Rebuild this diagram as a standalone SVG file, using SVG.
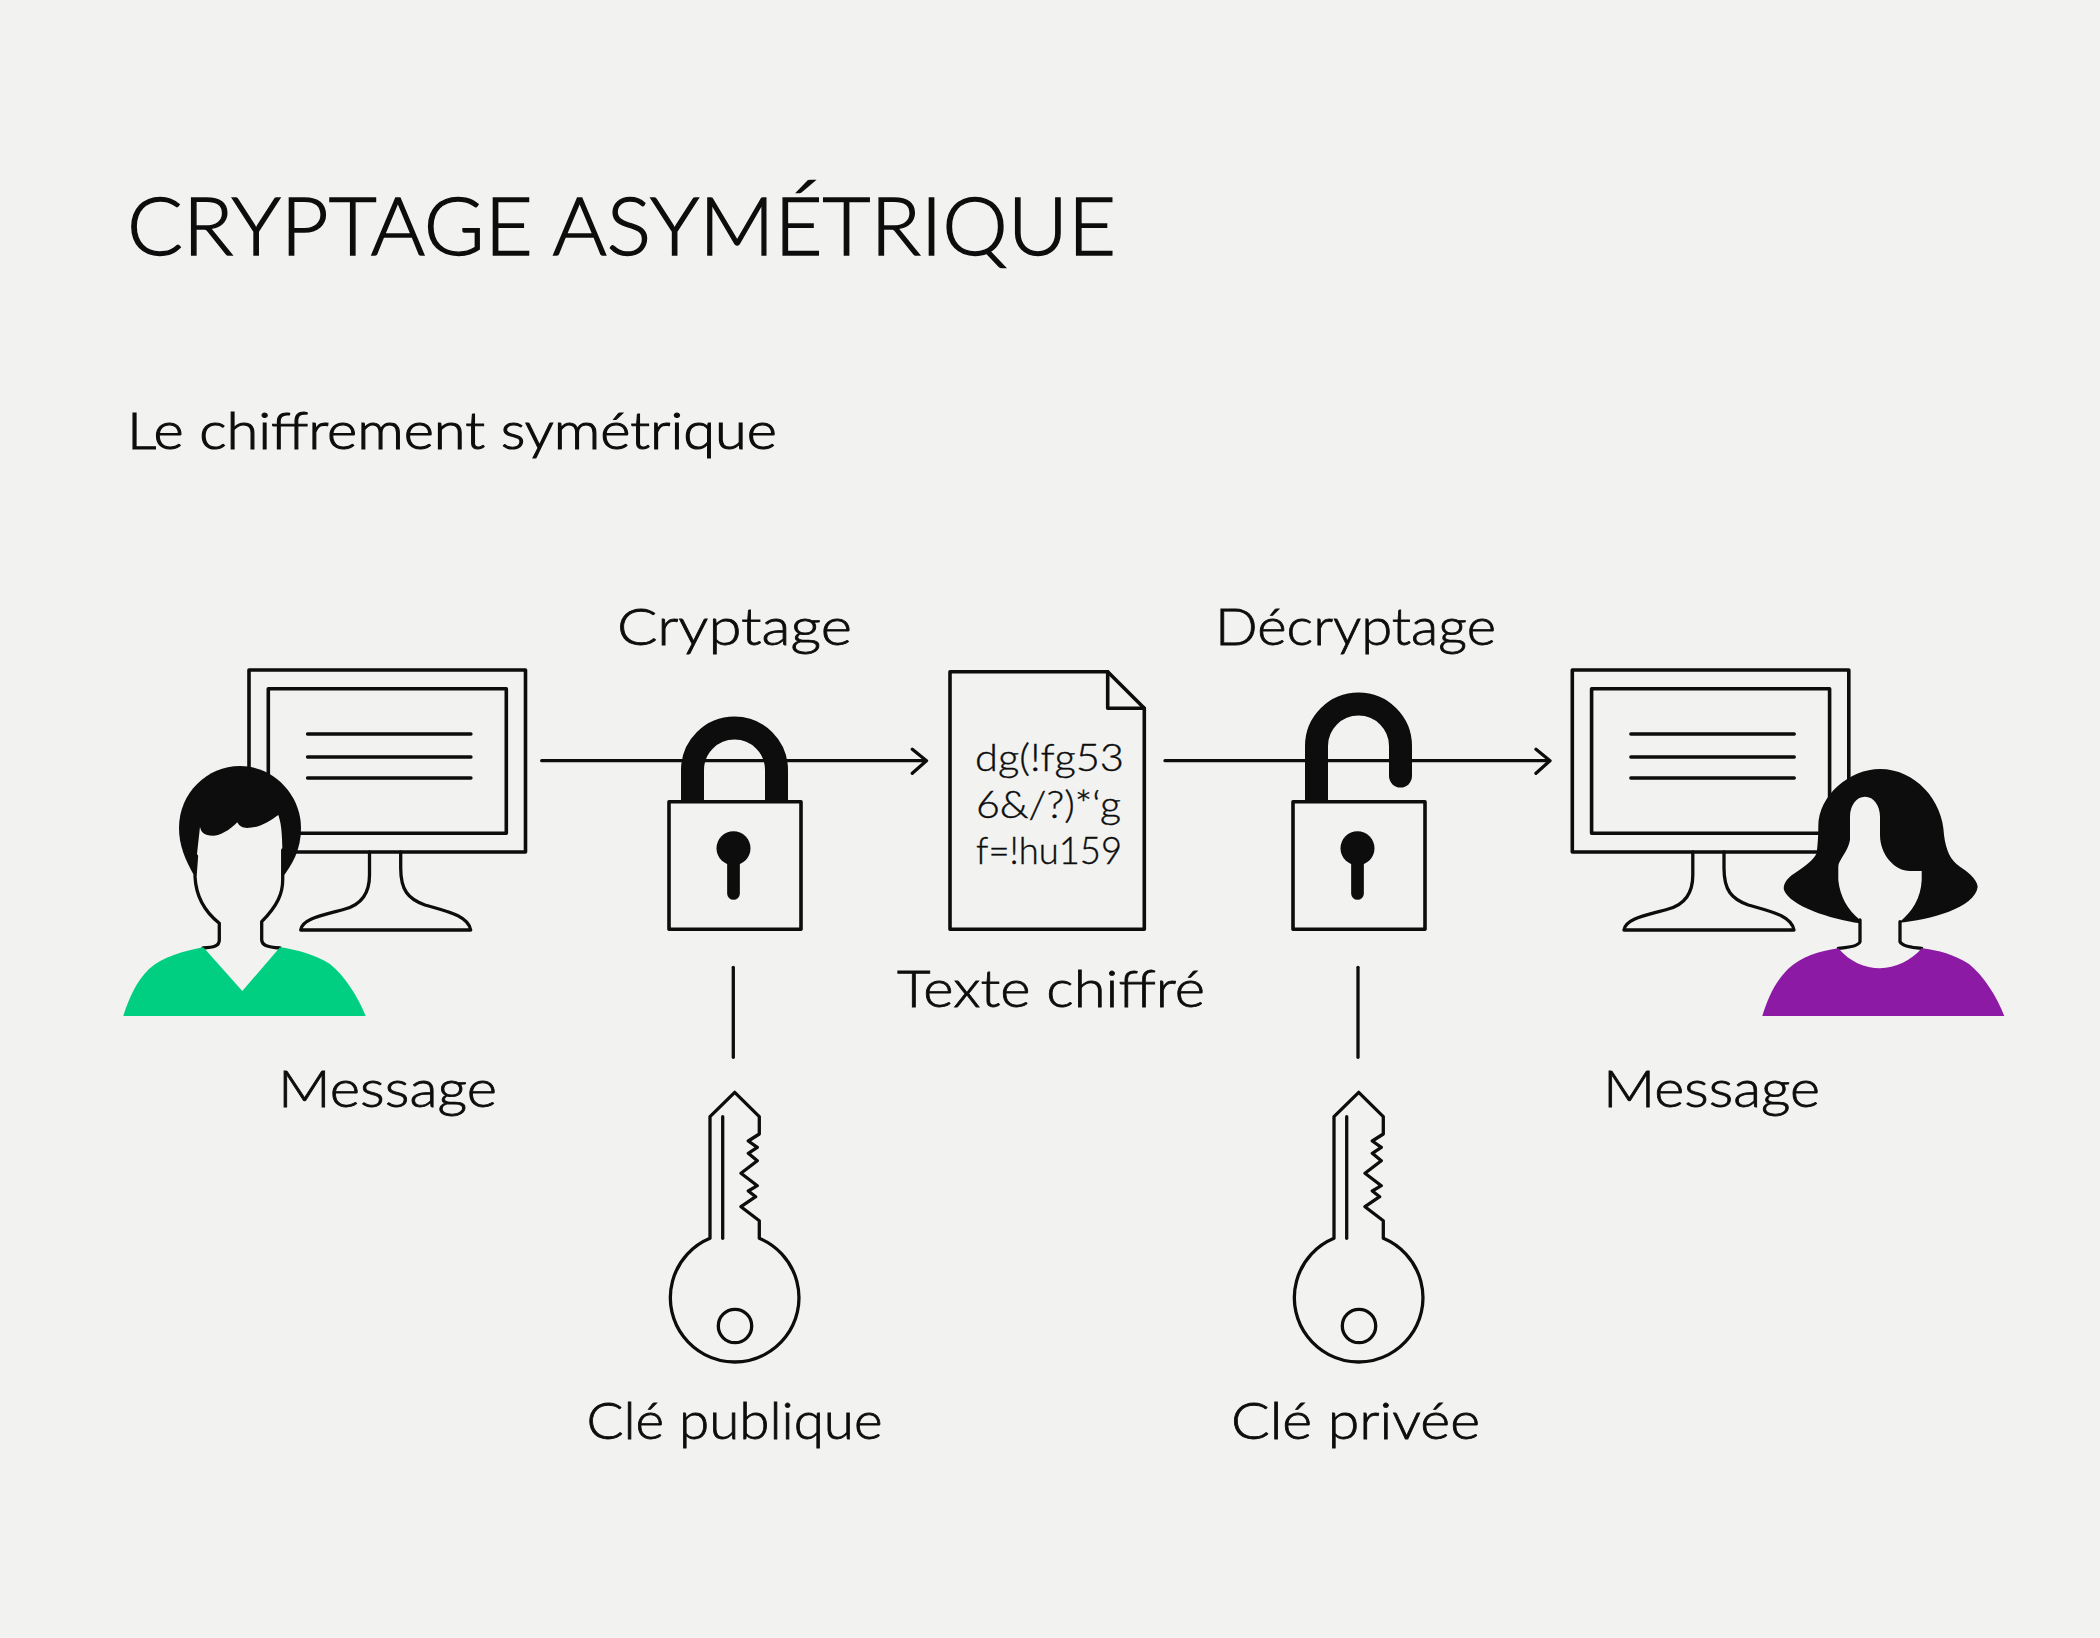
<svg xmlns="http://www.w3.org/2000/svg" xmlns:xlink="http://www.w3.org/1999/xlink" width="2100" height="1638" viewBox="0 0 2100 1638">
<style>
.ln{fill:none;stroke:#0d0d0d;stroke-width:3.300;stroke-linecap:round;stroke-linejoin:round}
.sh{fill:none;stroke:#0d0d0d;stroke-width:23}
.ink{fill:#0d0d0d}
.bg{fill:#f2f2f0}
text{font-family:"Lato","Liberation Sans",sans-serif;fill:#0d0d0d;stroke:#0d0d0d;font-weight:300}
.lbl{font-size:52px;stroke-width:.8px}
.doc{font-size:38px;stroke-width:.4px}
</style>
<defs>
<g id="monitor">
<rect class="ln" x="249" y="670" width="276.500" height="182" style="stroke-width:3.600"/>
<rect class="ln" x="268.300" y="688.700" width="238" height="144.500" style="stroke-width:3.600"/>
<path class="ln" d="M307.500 734H471M307.500 757H471M307.500 778H471"/>
<path class="ln" d="M369.500 852V875C369.500 895 360 905 345 909C325 915 302 918 300.700 930H470.700C468 915 445 911 425 905C408 899 400.700 890 400.700 868V852"/>
</g>
<g id="keyshape">
<path class="ln" d="M734.700 1092.300L759.300 1116.700V1134L748.300 1141L757.300 1147.300L748.300 1153.300L757.300 1160.700L741 1173.300L757.300 1185.700L748.300 1191L755.700 1196.700L741 1206.700L759.300 1220.700V1238.300A64.300 64.300 0 1 1 710 1238.300V1116.700Z"/>
<path class="ln" d="M722.700 1116.700V1238.300"/>
<circle class="ln" cx="735" cy="1326" r="16.700"/>
</g>
<g id="keyhole">
<circle class="ink" cx="733.500" cy="848.300" r="17"/>
<path d="M733.500 852V893.500" style="fill:none;stroke:#0d0d0d;stroke-width:12.700;stroke-linecap:round"/>
</g>
</defs>
<rect class="bg" width="2100" height="1638"/>
<text id="title" x="127" y="255" font-size="80" style="stroke-width:1.400px" textLength="989" lengthAdjust="spacingAndGlyphs">CRYPTAGE ASYMÉTRIQUE</text>
<text id="subtitle" x="127" y="449" font-size="52" style="stroke-width:1.100px" textLength="650" lengthAdjust="spacingAndGlyphs">Le chiffrement symétrique</text>
<g id="connectors">
<path class="ln" d="M541.700 760.700H926M912.300 749.300L926.500 760.700L912.300 773.300"/>
<path class="ln" d="M1165 760.700H1549.500M1536 749.300L1550 760.700L1536 773.300"/>
<path class="ln" d="M733.300 967.300V1057.300"/>
<path class="ln" d="M1358 967.300V1057.300"/>
</g>
<g id="sender">
<use xlink:href="#monitor" href="#monitor"/>
<path class="ink" d="M195 877C185 860 179 845 179 828C179 793 207 766 240 766C274 766 301 795 301 828C301 850 292 865 282 878Z"/>
<path class="bg" d="M196.700 856.700L200 826.700C201 832 204 835.700 213 835.700C220 835.700 230 830 237.300 822.300C239 826 243 828 247 828C260 828 270 821 278.300 815C282 826 282.700 836 282.700 880C282.700 893 278 905 261.700 921.700V940C262 945 266 947 280 948L203 948C216 947 219.300 945 219.300 940V923.300C205 912 196 897 195 876.700Z"/>
<path class="ln" d="M196.500 856L195 876.700C196 897 205 912 219.300 923.300V940C219.300 946 214 947.500 203 948M282.700 850V880C282.700 893 278 905 261.700 921.700V940C262 945 266 947 280 948"/>
<path fill="#00cf82" d="M123.300 1016C129 998 136 982 149 969C162 957 184 951 203.300 947.300L242.300 991L280 947.300C298 950 316 955 330 964C345 976 358 997 365.700 1016Z"/>
<text class="lbl" x="278" y="1107" textLength="219" lengthAdjust="spacingAndGlyphs">Message</text>
</g>
<g id="lock-public">
<path class="sh" d="M692.500 802V770A42 42 0 0 1 776.500 770V802"/>
<rect class="ln" x="669" y="801.700" width="132" height="127.600" style="stroke-width:3.600"/>
<use xlink:href="#keyhole" href="#keyhole"/>
<text class="lbl" x="617" y="645" textLength="235" lengthAdjust="spacingAndGlyphs">Cryptage</text>
</g>
<g id="key-public">
<use xlink:href="#keyshape" href="#keyshape"/>
<text class="lbl" x="586.500" y="1439" textLength="296" lengthAdjust="spacingAndGlyphs">Clé publique</text>
</g>
<g id="document">
<path class="ln" d="M950 671.700H1107.700L1144.300 708.300V929.300H950Z" style="stroke-width:3.600"/>
<path class="ln" d="M1107.700 671.700V708.300H1144.300" style="stroke-width:3.600"/>
<text class="doc" x="975" y="771" textLength="149" lengthAdjust="spacingAndGlyphs">dg(!fg53</text>
<text class="doc" x="976" y="817.500" textLength="145" lengthAdjust="spacingAndGlyphs">6&amp;/?)*‘g</text>
<text class="doc" x="976" y="864" textLength="146" lengthAdjust="spacingAndGlyphs">f=!hu159</text>
<text class="lbl" x="897" y="1007" textLength="308" lengthAdjust="spacingAndGlyphs">Texte chiffré</text>
</g>
<g id="lock-private">
<path class="sh" d="M1316.500 802V746A42 42 0 0 1 1400.500 746V776"/>
<circle class="ink" cx="1400.500" cy="776" r="11.500"/>
<rect class="ln" x="1293" y="801.700" width="132" height="127.600" style="stroke-width:3.600"/>
<use xlink:href="#keyhole" href="#keyhole" transform="translate(624 0)"/>
<text class="lbl" x="1215" y="645" textLength="281" lengthAdjust="spacingAndGlyphs">Décryptage</text>
</g>
<g id="key-private">
<use xlink:href="#keyshape" href="#keyshape" transform="translate(624 0)"/>
<text class="lbl" x="1231" y="1439" textLength="249" lengthAdjust="spacingAndGlyphs">Clé privée</text>
</g>
<g id="receiver">
<use xlink:href="#monitor" href="#monitor" transform="translate(1323.300 0)"/>
<path class="ink" d="M1880 769C1850 769 1818.300 795 1818.300 826.700C1818.300 840 1817 850 1816.700 853C1814 860 1805 866 1795 873C1785 879 1783 886 1784 890C1790 906 1830 919 1860 923.300L1898.300 922.700C1930 920 1975 908 1977.700 886.700C1977 878 1965 870 1960 866.700C1950 860 1946 850 1944 835C1943 800 1915 769 1880 769Z"/>
<path class="bg" d="M1865 796.700C1856 796.700 1850 806 1850 816.700V840C1848 852 1838.300 860 1838.300 866.700V880C1840 897 1848 910 1860 920V941.700C1859 945 1850 947 1838.300 948.300C1850 962 1865 968.300 1880 968.300C1895 968.300 1912 960 1921.700 948.300C1910 947 1902 945 1900 941.700V921.700C1912 912 1921 898 1921.700 880V871H1910C1895 871 1880 855 1880 835V816.700C1880 806 1874 796.700 1865 796.700Z"/>
<path class="ln" d="M1860 920V941.700C1859 945.500 1850 947.500 1838.300 948.300M1900 921.700V941.700C1902 945.500 1910 947.500 1921.700 948.300"/>
<path fill="#8c1aa5" d="M1762.300 1016C1768 998 1775 982 1788 969C1801 957 1819 951 1838.300 948.300C1850 962 1865 968.300 1880 968.300C1895 968.300 1912 960 1921.700 948.300C1938 950 1955 955 1969 964C1984 976 1997 997 2004.300 1016Z"/>
<text class="lbl" x="1603" y="1107" textLength="217" lengthAdjust="spacingAndGlyphs">Message</text>
</g>
</svg>
